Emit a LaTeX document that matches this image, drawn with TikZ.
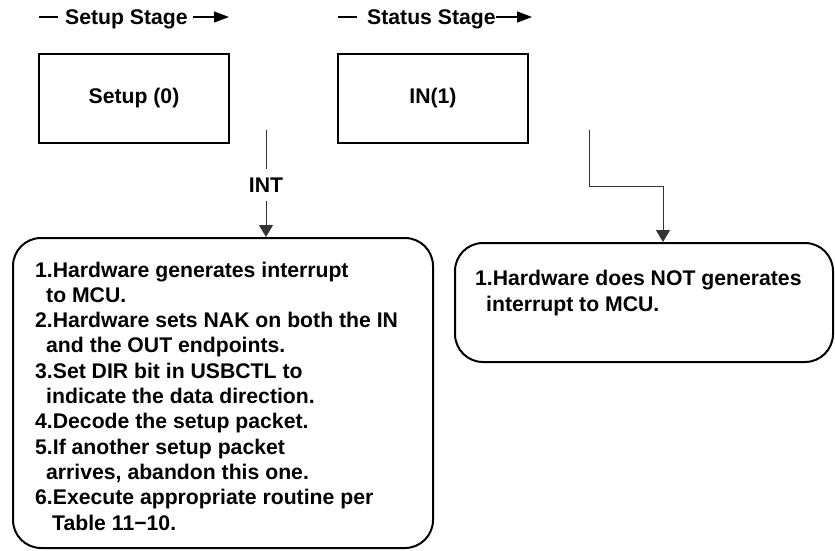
\documentclass[tikz,border=0pt]{standalone}
\usepackage{fontspec}
\setmainfont{Liberation Sans}
\usetikzlibrary{arrows.meta}
\begin{document}
\begin{tikzpicture}[x=1pt,y=-1pt,
  txt/.style={font=\fontsize{21.2}{25.3}\selectfont\bfseries, inner sep=0pt},
  stagebox/.style={draw, line width=2pt, minimum width=190pt, minimum height=89pt, inner sep=0pt, txt},
  notebox/.style={draw, line width=2pt, rounded corners=28pt, inner sep=0pt},
  conn/.style={draw=black!80, line width=1pt},
  tip/.style={-{Triangle[width=14pt,length=12pt]}},
  hdrline/.style={line width=1.3pt},
  hdrtip/.style={-{Triangle[width=11pt,length=15pt]}},
  notetext/.style={txt, anchor=base west, align=left}
]
\useasboundingbox (0,0) rectangle (835,550);

% headers
\node[txt, anchor=base west] (setuphdr) at (65,24) {Setup Stage};
\node[txt, anchor=base west] (statushdr) at (367,24) {Status Stage};
\coordinate (d1a) at (39,17);  \coordinate (d1b) at (58,17);
\coordinate (a1a) at (193,17); \coordinate (a1b) at (229,17);
\coordinate (d2a) at (338,17); \coordinate (d2b) at (357,17);
\coordinate (a2a) at (496,17); \coordinate (a2b) at (532,17);
\draw[hdrline] (d1a) -- (d1b);
\draw[hdrline, hdrtip] (a1a) -- (a1b);
\draw[hdrline] (d2a) -- (d2b);
\draw[hdrline, hdrtip] (a2a) -- (a2b);

% stage boxes
\node[stagebox] (setupbox) at (134,98.5) {Setup (0)};
\node[stagebox] (inbox) at (433,98.5) {IN(1)};

% note boxes
\node[notebox, minimum width=420pt, minimum height=310pt] (leftbox) at (223,393) {};
\node[notebox, minimum width=378pt, minimum height=119pt] (rightbox) at (644,302.5) {};

% last-line baselines
\node[notetext] (lefttext) at (35,530) {1.Hardware generates interrupt\\
\hspace*{11pt}to MCU.\\
2.Hardware sets NAK on both the IN\\
\hspace*{11pt}and the OUT endpoints.\\
3.Set DIR bit in USBCTL to\\
\hspace*{11pt}indicate the data direction.\\
4.Decode the setup packet.\\
5.If another setup packet\\
\hspace*{11pt}arrives, abandon this one.\\
6.Execute appropriate routine per\\
\hspace*{17pt}Table 11−10.};

\node[notetext] (righttext) at (475,311) {1.Hardware does NOT generates\\
\hspace*{11pt}interrupt to MCU.};

% INT connector
\node[txt, inner ysep=8.5pt] (int) at (266,185) {INT};
\coordinate (intstart) at (266,130);
\draw[conn] (intstart) -- (int.north);
\draw[conn, tip] (int.south) -- (int |- leftbox.north);

% right connector
\coordinate (rstart) at (589,130);
\coordinate (rbend) at (663,186.7);
\draw[conn, tip] (rstart) |- (rbend) -- (rbend |- rightbox.north);
\end{tikzpicture}
\end{document}
